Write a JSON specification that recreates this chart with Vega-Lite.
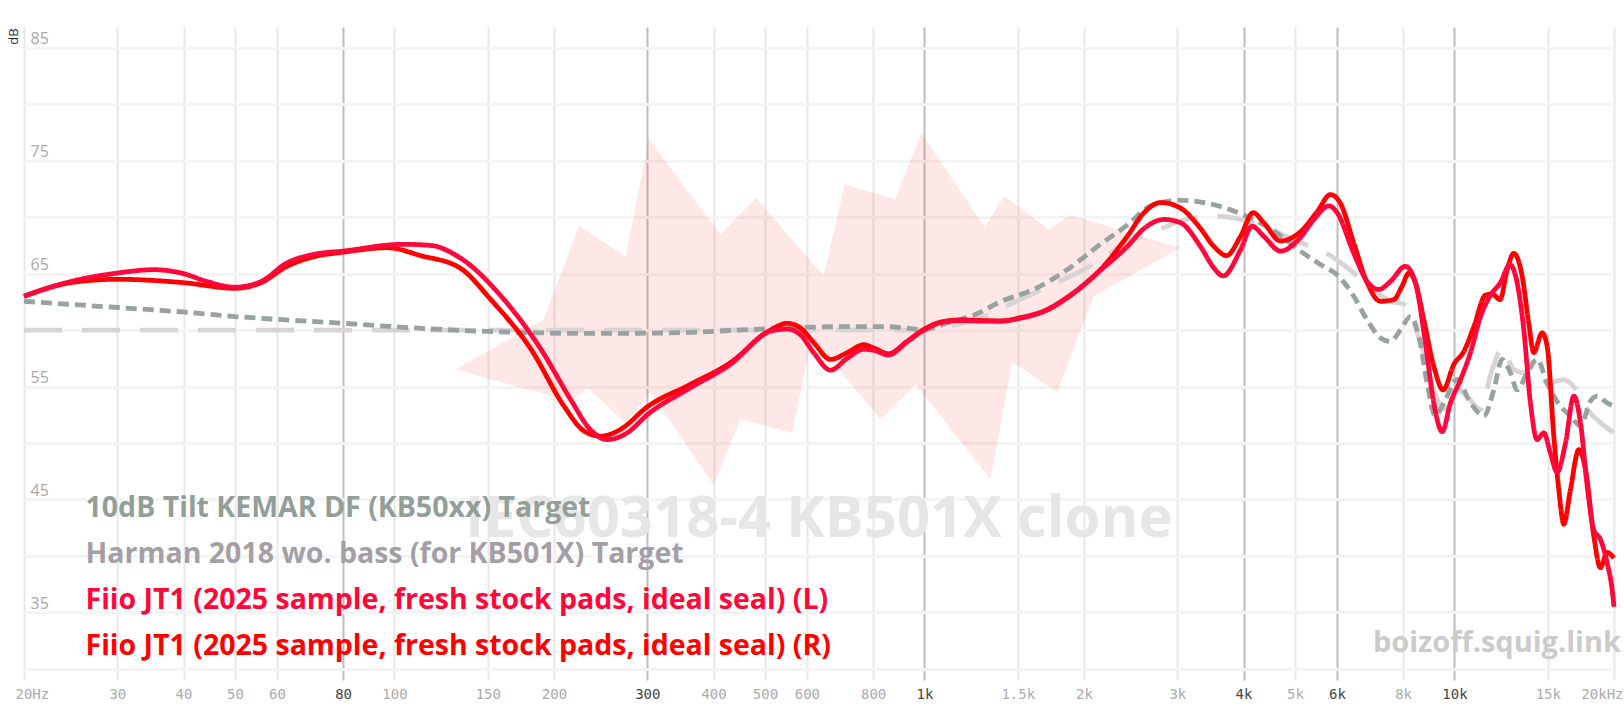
{
  "$schema": "https://vega.github.io/schema/vega-lite/v6.json",
  "width": 1590,
  "height": 653,
  "autosize": {"type": "none"},
  "padding": {"left": 24, "top": 27, "right": 10, "bottom": 29},
  "background": "white",
  "config": {"view": {"stroke": null}},
  "datasets": {
    "band": [
      {"i": 1, "f": 130.1, "db": 56.5},
      {"i": 2, "f": 191, "db": 60.9},
      {"i": 3, "f": 223, "db": 69.25},
      {"i": 4, "f": 273, "db": 66.5},
      {"i": 5, "f": 302, "db": 76.9},
      {"i": 6, "f": 412, "db": 68.5},
      {"i": 7, "f": 481, "db": 71.7},
      {"i": 8, "f": 645, "db": 64.8},
      {"i": 9, "f": 707, "db": 72.9},
      {"i": 10, "f": 880, "db": 71.6},
      {"i": 11, "f": 987, "db": 77.45},
      {"i": 12, "f": 1299, "db": 69.1},
      {"i": 13, "f": 1415, "db": 71.9},
      {"i": 14, "f": 1716, "db": 68.9},
      {"i": 15, "f": 1886, "db": 70.2},
      {"i": 16, "f": 3040, "db": 67.3},
      {"i": 17, "f": 2087, "db": 63.0},
      {"i": 18, "f": 1780, "db": 54.5},
      {"i": 19, "f": 1464, "db": 57.2},
      {"i": 20, "f": 1332, "db": 46.8},
      {"i": 21, "f": 962, "db": 55.2},
      {"i": 22, "f": 826, "db": 52.1},
      {"i": 23, "f": 613, "db": 59.4},
      {"i": 24, "f": 563, "db": 50.9},
      {"i": 25, "f": 449.6, "db": 52.1},
      {"i": 26, "f": 400, "db": 46.3},
      {"i": 27, "f": 304, "db": 54.5},
      {"i": 28, "f": 273, "db": 51.8},
      {"i": 29, "f": 231, "db": 54.9},
      {"i": 30, "f": 214.8, "db": 53.7}
    ],
    "fr": [
      {"s": "H", "f": 20, "db": 60.0},
      {"s": "H", "f": 200, "db": 60.0},
      {"s": "H", "f": 1000, "db": 60.0},
      {"s": "H", "f": 1100, "db": 60.3},
      {"s": "H", "f": 1300, "db": 61.2},
      {"s": "H", "f": 1453, "db": 62.3},
      {"s": "H", "f": 1680, "db": 63.7},
      {"s": "H", "f": 1998, "db": 65.35},
      {"s": "H", "f": 2344, "db": 67.4},
      {"s": "H", "f": 2711, "db": 68.7},
      {"s": "H", "f": 3126, "db": 69.8},
      {"s": "H", "f": 3566, "db": 70.1},
      {"s": "H", "f": 4180, "db": 69.5},
      {"s": "H", "f": 4975, "db": 68.0},
      {"s": "H", "f": 5920, "db": 66.4},
      {"s": "H", "f": 6457, "db": 65.05},
      {"s": "H", "f": 7043, "db": 63.6},
      {"s": "H", "f": 7570, "db": 62.55},
      {"s": "H", "f": 8024, "db": 62.3},
      {"s": "H", "f": 8628, "db": 58.9},
      {"s": "H", "f": 9142, "db": 54.7},
      {"s": "H", "f": 9548, "db": 53.0},
      {"s": "H", "f": 9970, "db": 55.0},
      {"s": "H", "f": 10566, "db": 54.1},
      {"s": "H", "f": 11200, "db": 53.0},
      {"s": "H", "f": 11780, "db": 56.5},
      {"s": "H", "f": 12300, "db": 58.4},
      {"s": "H", "f": 12940, "db": 56.5},
      {"s": "H", "f": 13515, "db": 56.2},
      {"s": "H", "f": 14114, "db": 57.2},
      {"s": "H", "f": 14957, "db": 55.3},
      {"s": "H", "f": 16080, "db": 55.6},
      {"s": "H", "f": 17040, "db": 54.6},
      {"s": "H", "f": 17800, "db": 53.0},
      {"s": "H", "f": 18855, "db": 51.8},
      {"s": "H", "f": 19980, "db": 50.9},

      {"s": "T", "f": 20, "db": 62.55},
      {"s": "T", "f": 30, "db": 62.0},
      {"s": "T", "f": 40, "db": 61.6},
      {"s": "T", "f": 50, "db": 61.2},
      {"s": "T", "f": 60, "db": 60.95},
      {"s": "T", "f": 80, "db": 60.6},
      {"s": "T", "f": 100, "db": 60.3},
      {"s": "T", "f": 130, "db": 60.0},
      {"s": "T", "f": 170, "db": 59.8},
      {"s": "T", "f": 240, "db": 59.7},
      {"s": "T", "f": 330, "db": 59.75},
      {"s": "T", "f": 500, "db": 60.1},
      {"s": "T", "f": 700, "db": 60.3},
      {"s": "T", "f": 850, "db": 60.3},
      {"s": "T", "f": 1000, "db": 60.05},
      {"s": "T", "f": 1100, "db": 60.6},
      {"s": "T", "f": 1250, "db": 61.4},
      {"s": "T", "f": 1390, "db": 62.5},
      {"s": "T", "f": 1608, "db": 63.6},
      {"s": "T", "f": 1859, "db": 65.35},
      {"s": "T", "f": 2148, "db": 67.6},
      {"s": "T", "f": 2413, "db": 69.3},
      {"s": "T", "f": 2670, "db": 71.0},
      {"s": "T", "f": 3044, "db": 71.5},
      {"s": "T", "f": 3517, "db": 71.1},
      {"s": "T", "f": 4000, "db": 70.2},
      {"s": "T", "f": 4620, "db": 68.6},
      {"s": "T", "f": 5122, "db": 67.0},
      {"s": "T", "f": 5588, "db": 65.8},
      {"s": "T", "f": 6006, "db": 64.9},
      {"s": "T", "f": 6457, "db": 63.0},
      {"s": "T", "f": 6843, "db": 60.9},
      {"s": "T", "f": 7251, "db": 59.3},
      {"s": "T", "f": 7570, "db": 59.0},
      {"s": "T", "f": 7910, "db": 60.0},
      {"s": "T", "f": 8260, "db": 61.2},
      {"s": "T", "f": 8566, "db": 59.45},
      {"s": "T", "f": 8880, "db": 55.3},
      {"s": "T", "f": 9200, "db": 52.4},
      {"s": "T", "f": 9548, "db": 53.55},
      {"s": "T", "f": 10117, "db": 55.6},
      {"s": "T", "f": 10720, "db": 53.55},
      {"s": "T", "f": 11365, "db": 52.4},
      {"s": "T", "f": 11865, "db": 54.7},
      {"s": "T", "f": 12300, "db": 57.4},
      {"s": "T", "f": 12757, "db": 56.2},
      {"s": "T", "f": 13130, "db": 54.7},
      {"s": "T", "f": 13713, "db": 56.2},
      {"s": "T", "f": 14320, "db": 57.4},
      {"s": "T", "f": 14957, "db": 55.3},
      {"s": "T", "f": 15850, "db": 53.25},
      {"s": "T", "f": 16555, "db": 52.4},
      {"s": "T", "f": 17290, "db": 51.5},
      {"s": "T", "f": 18050, "db": 53.7},
      {"s": "T", "f": 18590, "db": 54.15},
      {"s": "T", "f": 19410, "db": 53.55},
      {"s": "T", "f": 19980, "db": 53.25},

      {"s": "R", "f": 20, "db": 63.0},
      {"s": "R", "f": 24.5, "db": 64.2},
      {"s": "R", "f": 30, "db": 64.5},
      {"s": "R", "f": 40, "db": 64.2},
      {"s": "R", "f": 50, "db": 63.7},
      {"s": "R", "f": 56, "db": 64.2},
      {"s": "R", "f": 62.7, "db": 65.65},
      {"s": "R", "f": 70.4, "db": 66.5},
      {"s": "R", "f": 80, "db": 66.9},
      {"s": "R", "f": 97, "db": 67.3},
      {"s": "R", "f": 112, "db": 66.6},
      {"s": "R", "f": 133, "db": 65.5},
      {"s": "R", "f": 152, "db": 62.7},
      {"s": "R", "f": 181, "db": 58.3},
      {"s": "R", "f": 209, "db": 53.25},
      {"s": "R", "f": 228, "db": 51.05},
      {"s": "R", "f": 245, "db": 50.6},
      {"s": "R", "f": 267, "db": 51.2},
      {"s": "R", "f": 300, "db": 53.2},
      {"s": "R", "f": 362, "db": 55.2},
      {"s": "R", "f": 430, "db": 57.1},
      {"s": "R", "f": 512, "db": 60.0},
      {"s": "R", "f": 551, "db": 60.6},
      {"s": "R", "f": 583, "db": 60.2},
      {"s": "R", "f": 618, "db": 58.9},
      {"s": "R", "f": 665, "db": 57.4},
      {"s": "R", "f": 715, "db": 58.0},
      {"s": "R", "f": 768, "db": 58.7},
      {"s": "R", "f": 803, "db": 58.4},
      {"s": "R", "f": 856, "db": 57.9},
      {"s": "R", "f": 927, "db": 59.0},
      {"s": "R", "f": 997, "db": 60.05},
      {"s": "R", "f": 1072, "db": 60.7},
      {"s": "R", "f": 1170, "db": 60.9},
      {"s": "R", "f": 1275, "db": 60.85},
      {"s": "R", "f": 1390, "db": 60.8},
      {"s": "R", "f": 1517, "db": 61.1},
      {"s": "R", "f": 1700, "db": 61.8},
      {"s": "R", "f": 1859, "db": 62.9},
      {"s": "R", "f": 2148, "db": 65.35},
      {"s": "R", "f": 2413, "db": 68.3},
      {"s": "R", "f": 2596, "db": 70.4},
      {"s": "R", "f": 2792, "db": 71.3},
      {"s": "R", "f": 3044, "db": 70.8},
      {"s": "R", "f": 3318, "db": 69.0},
      {"s": "R", "f": 3517, "db": 67.4},
      {"s": "R", "f": 3715, "db": 66.6},
      {"s": "R", "f": 3948, "db": 68.3},
      {"s": "R", "f": 4170, "db": 70.4},
      {"s": "R", "f": 4370, "db": 69.5},
      {"s": "R", "f": 4695, "db": 67.9},
      {"s": "R", "f": 5120, "db": 68.7},
      {"s": "R", "f": 5510, "db": 70.5},
      {"s": "R", "f": 5834, "db": 72.0},
      {"s": "R", "f": 6090, "db": 71.25},
      {"s": "R", "f": 6457, "db": 67.7},
      {"s": "R", "f": 6843, "db": 64.2},
      {"s": "R", "f": 7251, "db": 62.55},
      {"s": "R", "f": 7683, "db": 62.7},
      {"s": "R", "f": 7966, "db": 63.9},
      {"s": "R", "f": 8200, "db": 65.05},
      {"s": "R", "f": 8440, "db": 64.2},
      {"s": "R", "f": 8754, "db": 60.9},
      {"s": "R", "f": 9142, "db": 56.8},
      {"s": "R", "f": 9520, "db": 54.7},
      {"s": "R", "f": 9970, "db": 56.95},
      {"s": "R", "f": 10414, "db": 58.1},
      {"s": "R", "f": 10878, "db": 60.3},
      {"s": "R", "f": 11443, "db": 63.1},
      {"s": "R", "f": 11780, "db": 63.2},
      {"s": "R", "f": 12190, "db": 62.7},
      {"s": "R", "f": 12573, "db": 65.35},
      {"s": "R", "f": 12940, "db": 66.8},
      {"s": "R", "f": 13417, "db": 64.8},
      {"s": "R", "f": 13810, "db": 60.6},
      {"s": "R", "f": 14114, "db": 58.0},
      {"s": "R", "f": 14634, "db": 59.75},
      {"s": "R", "f": 14957, "db": 58.6},
      {"s": "R", "f": 15398, "db": 50.6},
      {"s": "R", "f": 15733, "db": 45.9},
      {"s": "R", "f": 16080, "db": 42.8},
      {"s": "R", "f": 16555, "db": 45.9},
      {"s": "R", "f": 17167, "db": 49.4},
      {"s": "R", "f": 17670, "db": 47.65},
      {"s": "R", "f": 18320, "db": 41.75},
      {"s": "R", "f": 18855, "db": 38.95},
      {"s": "R", "f": 19410, "db": 40.3},
      {"s": "R", "f": 20000, "db": 39.8},

      {"s": "L", "f": 20, "db": 63.0},
      {"s": "L", "f": 24.5, "db": 64.3},
      {"s": "L", "f": 30, "db": 65.05},
      {"s": "L", "f": 35.2, "db": 65.35},
      {"s": "L", "f": 40, "db": 65.0},
      {"s": "L", "f": 44.3, "db": 64.3},
      {"s": "L", "f": 50, "db": 63.8},
      {"s": "L", "f": 56, "db": 64.3},
      {"s": "L", "f": 62.7, "db": 65.95},
      {"s": "L", "f": 70.4, "db": 66.7},
      {"s": "L", "f": 80, "db": 67.0},
      {"s": "L", "f": 104, "db": 67.6},
      {"s": "L", "f": 117, "db": 67.5},
      {"s": "L", "f": 133, "db": 66.4},
      {"s": "L", "f": 161, "db": 62.7},
      {"s": "L", "f": 189, "db": 58.3},
      {"s": "L", "f": 215, "db": 53.85},
      {"s": "L", "f": 234, "db": 51.2},
      {"s": "L", "f": 252, "db": 50.3},
      {"s": "L", "f": 275, "db": 50.9},
      {"s": "L", "f": 300, "db": 52.5},
      {"s": "L", "f": 362, "db": 54.9},
      {"s": "L", "f": 430, "db": 56.95},
      {"s": "L", "f": 512, "db": 59.9},
      {"s": "L", "f": 551, "db": 60.1},
      {"s": "L", "f": 583, "db": 59.6},
      {"s": "L", "f": 618, "db": 58.0},
      {"s": "L", "f": 665, "db": 56.45},
      {"s": "L", "f": 715, "db": 57.5},
      {"s": "L", "f": 768, "db": 58.3},
      {"s": "L", "f": 803, "db": 58.2},
      {"s": "L", "f": 856, "db": 57.8},
      {"s": "L", "f": 927, "db": 58.95},
      {"s": "L", "f": 997, "db": 60.0},
      {"s": "L", "f": 1072, "db": 60.65},
      {"s": "L", "f": 1170, "db": 60.85},
      {"s": "L", "f": 1275, "db": 60.8},
      {"s": "L", "f": 1390, "db": 60.8},
      {"s": "L", "f": 1517, "db": 61.05},
      {"s": "L", "f": 1700, "db": 61.75},
      {"s": "L", "f": 1859, "db": 62.85},
      {"s": "L", "f": 2148, "db": 65.3},
      {"s": "L", "f": 2413, "db": 67.4},
      {"s": "L", "f": 2596, "db": 69.0},
      {"s": "L", "f": 2833, "db": 69.8},
      {"s": "L", "f": 3044, "db": 69.5},
      {"s": "L", "f": 3318, "db": 67.4},
      {"s": "L", "f": 3517, "db": 65.5},
      {"s": "L", "f": 3660, "db": 64.8},
      {"s": "L", "f": 3948, "db": 67.1},
      {"s": "L", "f": 4150, "db": 69.2},
      {"s": "L", "f": 4370, "db": 68.3},
      {"s": "L", "f": 4695, "db": 67.0},
      {"s": "L", "f": 5120, "db": 68.2},
      {"s": "L", "f": 5430, "db": 69.8},
      {"s": "L", "f": 5800, "db": 71.0},
      {"s": "L", "f": 6006, "db": 70.4},
      {"s": "L", "f": 6457, "db": 66.8},
      {"s": "L", "f": 6843, "db": 64.3},
      {"s": "L", "f": 7200, "db": 63.6},
      {"s": "L", "f": 7570, "db": 64.3},
      {"s": "L", "f": 8080, "db": 65.65},
      {"s": "L", "f": 8440, "db": 64.2},
      {"s": "L", "f": 8815, "db": 58.85},
      {"s": "L", "f": 9142, "db": 53.55},
      {"s": "L", "f": 9480, "db": 51.0},
      {"s": "L", "f": 9829, "db": 53.55},
      {"s": "L", "f": 10265, "db": 55.6},
      {"s": "L", "f": 10720, "db": 58.0},
      {"s": "L", "f": 11200, "db": 61.2},
      {"s": "L", "f": 11700, "db": 63.1},
      {"s": "L", "f": 12210, "db": 64.2},
      {"s": "L", "f": 12720, "db": 65.8},
      {"s": "L", "f": 13130, "db": 64.2},
      {"s": "L", "f": 13515, "db": 60.05},
      {"s": "L", "f": 13910, "db": 53.55},
      {"s": "L", "f": 14320, "db": 50.3},
      {"s": "L", "f": 14741, "db": 50.9},
      {"s": "L", "f": 15175, "db": 49.1},
      {"s": "L", "f": 15620, "db": 47.4},
      {"s": "L", "f": 16200, "db": 50.0},
      {"s": "L", "f": 16797, "db": 54.15},
      {"s": "L", "f": 17290, "db": 51.8},
      {"s": "L", "f": 17800, "db": 46.2},
      {"s": "L", "f": 18320, "db": 42.3},
      {"s": "L", "f": 18855, "db": 41.45},
      {"s": "L", "f": 19410, "db": 39.4},
      {"s": "L", "f": 19840, "db": 37.0},
      {"s": "L", "f": 20000, "db": 35.5}
    ]
  },
  "layer": [
    {
      "data": {"name": "band"},
      "mark": {"type": "line", "fill": "#f03a3a", "fillOpacity": 0.12, "strokeOpacity": 0, "interpolate": "linear"},
      "encoding": {
        "x": {
          "field": "f",
          "type": "quantitative",
          "scale": {"type": "log", "domain": [20, 20000], "nice": false},
          "axis": {
            "title": null,
            "values": [20, 30, 40, 50, 60, 80, 100, 150, 200, 300, 400, 500, 600, 800, 1000, 1500, 2000, 3000, 4000, 5000, 6000, 8000, 10000, 15000, 20000],
            "labelExpr": "datum.value == 20 ? '20Hz' : datum.value == 20000 ? '20kHz' : datum.value >= 1000 ? (datum.value / 1000) + 'k' : datum.value + ''",
            "grid": true,
            "gridWidth": 2,
            "gridColor": {"condition": {"test": "indexof([80, 300, 1000, 4000, 6000, 10000], datum.value) >= 0", "value": "#bdbdbd"}, "value": "#e8e8e8"},
            "labelColor": {"condition": {"test": "indexof([80, 300, 1000, 4000, 6000, 10000], datum.value) >= 0", "value": "#444444"}, "value": "#ababab"},
            "ticks": false,
            "domain": false,
            "labelFont": "DejaVu Sans Mono",
            "labelFontSize": 14,
            "labelPadding": 7,
            "labelFlush": true,
            "labelFlushOffset": 9,
            "labelOverlap": false
          }
        },
        "y": {
          "field": "db",
          "type": "quantitative",
          "scale": {"domain": [29, 86.85], "nice": false, "zero": false},
          "axis": {
            "title": "dB",
            "titleX": -11,
            "titleY": 9,
            "titleAlign": "center",
            "titleBaseline": "middle",
            "titleAngle": 270,
            "titleFont": "Open Sans",
            "titleFontSize": 13,
            "titleFontWeight": "normal",
            "titleColor": "#333333",
            "values": [30, 35, 40, 45, 50, 55, 60, 65, 70, 75, 80, 85],
            "labelExpr": "datum.value % 10 == 5 ? datum.label : ''",
            "grid": true,
            "gridWidth": 3,
            "gridColor": "#f4f4f4",
            "ticks": false,
            "domain": false,
            "labelAlign": "left",
            "labelBaseline": "alphabetic",
            "labelPadding": -6,
            "labelOffset": -4,
            "labelFont": "Open Sans",
            "labelFontSize": 16,
            "labelColor": "#a8a8a8"
          }
        },
        "order": {"field": "i", "type": "quantitative"}
      }
    },
    {
      "data": {"values": [{"t": "IEC60318-4 KB501X clone"}]},
      "mark": {"type": "text", "font": "Open Sans", "fontWeight": "bold", "fontSize": 58, "fill": "#e6e6e6", "align": "center", "baseline": "alphabetic"},
      "encoding": {
        "x": {"datum": 632, "type": "quantitative"},
        "y": {"datum": 41.7, "type": "quantitative"},
        "text": {"field": "t", "type": "nominal"}
      }
    },
    {
      "data": {"values": [{"t": "boizoff.squig.link"}]},
      "mark": {"type": "text", "font": "Open Sans", "fontWeight": "bold", "fontSize": 29, "fill": "#cbcbcb", "align": "right", "baseline": "alphabetic", "dx": 7},
      "encoding": {
        "x": {"datum": 20000, "type": "quantitative"},
        "y": {"datum": 31.46, "type": "quantitative"},
        "text": {"field": "t", "type": "nominal"}
      }
    },
    {
      "data": {"name": "fr"},
      "mark": {"type": "line", "strokeWidth": 4.8, "interpolate": "monotone", "strokeCap": "butt"},
      "encoding": {
        "x": {"field": "f", "type": "quantitative"},
        "y": {"field": "db", "type": "quantitative"},
        "color": {
          "field": "s",
          "type": "nominal",
          "scale": {"domain": ["T", "H", "L", "R"], "range": ["#98a29e", "#d7d3d7", "#ff073a", "#ff0000"]},
          "legend": {
            "orient": "none",
            "legendX": 33,
            "legendY": 467,
            "direction": "vertical",
            "title": null,
            "symbolSize": 0,
            "symbolOpacity": 0,
            "symbolStrokeWidth": 0,
            "labelOffset": 0,
            "labelFont": "Open Sans",
            "labelFontSize": 28.5,
            "labelFontWeight": "bold",
            "labelLimit": 2000,
            "rowPadding": 17,
            "labelExpr": "datum.value == 'T' ? '10dB Tilt KEMAR DF (KB50xx) Target' : datum.value == 'H' ? 'Harman 2018 wo. bass (for KB501X) Target' : datum.value == 'L' ? 'Fiio JT1 (2025 sample, fresh stock pads, ideal seal) (L)' : 'Fiio JT1 (2025 sample, fresh stock pads, ideal seal) (R)'",
            "encode": {"labels": {"update": {"fill": {"signal": "datum.value == 'T' ? '#939e99' : datum.value == 'H' ? '#a49fa7' : datum.value == 'L' ? '#ff073a' : '#ff0000'"}}}}
          }
        },
        "strokeDash": {
          "field": "s",
          "type": "nominal",
          "scale": {"domain": ["T", "H", "L", "R"], "range": [[11, 6], [38, 20], [1, 0], [1, 0]]},
          "legend": null
        }
      }
    }
  ]
}
